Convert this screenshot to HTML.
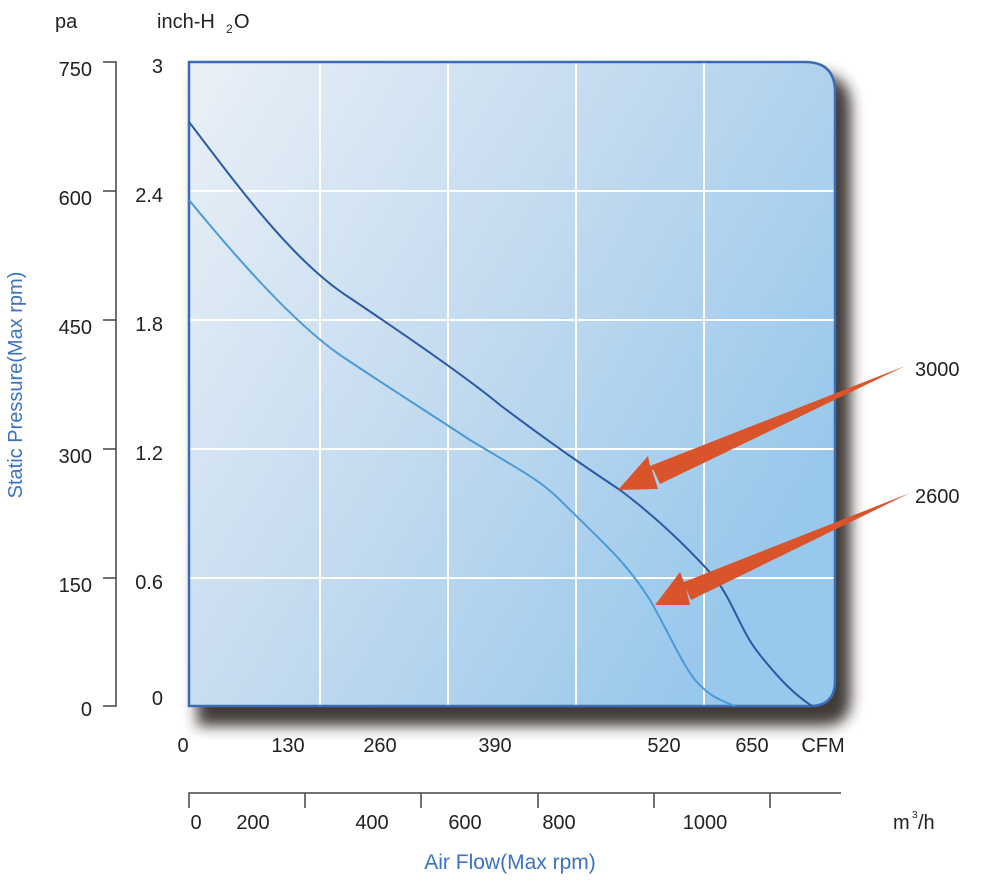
<!DOCTYPE html>
<html><head><meta charset="utf-8"><style>
body{margin:0;background:#fff;}
svg text{font-family:"Liberation Sans",sans-serif;fill:#222;}
</style></head><body>
<svg width="1000" height="883" viewBox="0 0 1000 883" xmlns="http://www.w3.org/2000/svg">
<defs>
<linearGradient id="bg" x1="0" y1="0" x2="1" y2="0.6">
<stop offset="0" stop-color="#eaf0f7"/>
<stop offset="0.5" stop-color="#c4dbef"/>
<stop offset="1" stop-color="#98c8ec"/>
</linearGradient>
<filter id="sh" x="-10%" y="-10%" width="130%" height="130%"><feGaussianBlur stdDeviation="7"/></filter>
</defs>
<path d="M197 74 H817 Q851 74 851 108 V698 Q851 726 823 726 H197 Z" fill="#2e2824" filter="url(#sh)" opacity="0.9"/>
<path d="M189 62 H805 Q835 62 835 92 V681 Q835 706 810 706 H189 Z" fill="url(#bg)"/>
<g stroke="#fff" stroke-width="2">
<line x1="320" y1="63" x2="320" y2="705"/><line x1="448" y1="63" x2="448" y2="705"/>
<line x1="576" y1="63" x2="576" y2="705"/><line x1="704" y1="63" x2="704" y2="705"/>
<line x1="190" y1="191" x2="834" y2="191"/><line x1="190" y1="320" x2="834" y2="320"/>
<line x1="190" y1="449" x2="834" y2="449"/><line x1="190" y1="578" x2="834" y2="578"/>
</g>
<path d="M189 62 H805 Q835 62 835 92 V681 Q835 706 810 706 H189 Z" fill="none" stroke="#3a6cb8" stroke-width="2.5"/>
<path d="M189 122 C230 175 290 260 350 298 C420 345 470 380 500 405 C560 450 590 470 620 490 C660 520 690 550 715 578 C735 605 740 630 760 655 C780 680 795 695 812 706" fill="none" stroke="#2a5aa6" stroke-width="2"/>
<path d="M189 200 C230 250 290 320 340 355 C400 395 440 420 470 440 C520 470 540 480 560 500 C600 540 625 560 650 600 C670 635 680 660 695 680 C710 697 720 700 735 706" fill="none" stroke="#4b9ad8" stroke-width="2"/>
<polygon points="905,366 652,470 658,489 618,490 648,456 650,466" fill="#d9542a"/>
<polygon points="905,366 652,467 660,484" fill="#d9542a"/>
<polygon points="910,493 686,588 690,605 655,605 680,572 684,582" fill="#d9542a"/>
<polygon points="910,493 684,584 691,600" fill="#d9542a"/>
<text x="55" y="28" font-size="20">pa</text>
<text x="157" y="28" font-size="20">inch-H</text><text x="226" y="33" font-size="12">2</text><text x="234" y="28" font-size="20">O</text>
<path d="M103 62 H116 V706 H103 M103 191 H116 M103 320 H116 M103 449 H116 M103 578 H116" fill="none" stroke="#444" stroke-width="1.5"/>
<g font-size="20" text-anchor="end">
<text x="92" y="76">750</text><text x="92" y="205">600</text><text x="92" y="334">450</text>
<text x="92" y="463">300</text><text x="92" y="592">150</text><text x="92" y="716">0</text>
<text x="163" y="73">3</text><text x="163" y="202">2.4</text><text x="163" y="331">1.8</text>
<text x="163" y="460">1.2</text><text x="163" y="589">0.6</text><text x="163" y="705">0</text>
</g>
<text transform="translate(22,385) rotate(-90)" font-size="20" text-anchor="middle" style="fill:#3b73c0">Static Pressure(Max rpm)</text>
<g font-size="20" text-anchor="middle">
<text x="183" y="752">0</text><text x="288" y="752">130</text><text x="380" y="752">260</text>
<text x="495" y="752">390</text><text x="664" y="752">520</text><text x="752" y="752">650</text><text x="823" y="752">CFM</text>
</g>
<path d="M189 808 V793 H841 M305 793 V808 M421 793 V808 M538 793 V808 M654 793 V808 M770 793 V808" fill="none" stroke="#444" stroke-width="1.5"/>
<g font-size="20" text-anchor="middle">
<text x="196" y="829">0</text><text x="253" y="829">200</text><text x="372" y="829">400</text>
<text x="465" y="829">600</text><text x="559" y="829">800</text><text x="705" y="829">1000</text>
</g>
<text x="893" y="829" font-size="20">m</text><text x="912" y="818" font-size="10">3</text><text x="918" y="829" font-size="20">/h</text>
<text x="510" y="869" font-size="21" text-anchor="middle" style="fill:#3b73c0">Air Flow(Max rpm)</text>
<text x="915" y="376" font-size="20">3000</text>
<text x="915" y="503" font-size="20">2600</text>
</svg>
</body></html>
